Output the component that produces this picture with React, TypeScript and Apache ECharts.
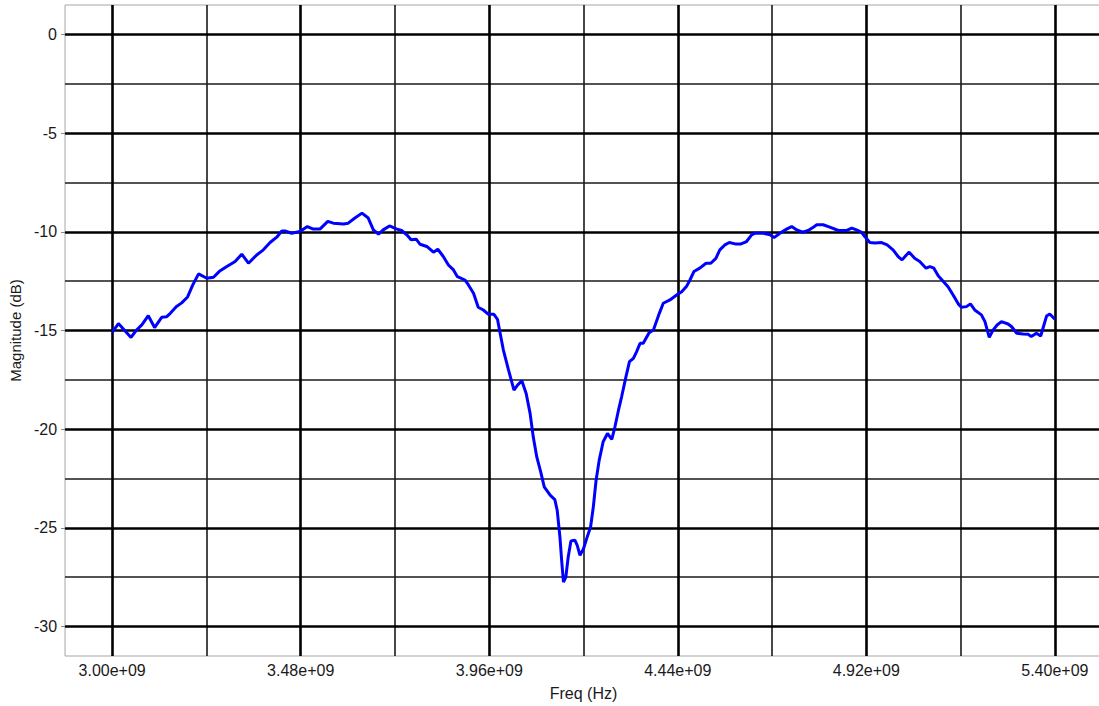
import React, { useEffect, useRef } from "react";
import * as echarts from "echarts";

// Measured frequency response: frequency (GHz) and magnitude (dB)
const freqGHz: number[] = [
  3.000, 3.016, 3.048, 3.061, 3.076, 3.092, 3.108, 3.126, 3.139, 3.148,
  3.163, 3.177, 3.192, 3.205, 3.220, 3.241, 3.258, 3.273, 3.292, 3.313,
  3.330, 3.347, 3.368, 3.385, 3.402, 3.419, 3.432, 3.440, 3.457, 3.478,
  3.497, 3.512, 3.529, 3.549, 3.563, 3.589, 3.601, 3.618, 3.636, 3.652,
  3.665, 3.678, 3.690, 3.706, 3.725, 3.737, 3.750, 3.761, 3.774, 3.784,
  3.801, 3.818, 3.829, 3.843, 3.856, 3.869, 3.879, 3.898, 3.907, 3.920,
  3.932, 3.945, 3.958, 3.972, 3.981, 3.987, 3.996, 4.009, 4.023, 4.032,
  4.043, 4.054, 4.064, 4.072, 4.081, 4.091, 4.100, 4.115, 4.127, 4.133,
  4.140, 4.145, 4.149, 4.155, 4.161, 4.168, 4.178, 4.184, 4.191, 4.200,
  4.208, 4.218, 4.225, 4.232, 4.240, 4.250, 4.261, 4.272, 4.280, 4.289,
  4.297, 4.308, 4.317, 4.327, 4.335, 4.344, 4.352, 4.367, 4.378, 4.393,
  4.403, 4.420, 4.437, 4.450, 4.463, 4.471, 4.481, 4.496, 4.512, 4.524,
  4.537, 4.547, 4.560, 4.571, 4.586, 4.601, 4.615, 4.628, 4.637, 4.658,
  4.675, 4.685, 4.700, 4.717, 4.730, 4.743, 4.758, 4.772, 4.785, 4.794,
  4.810, 4.827, 4.849, 4.870, 4.883, 4.895, 4.908, 4.916, 4.929, 4.942,
  4.959, 4.973, 4.988, 5.001, 5.011, 5.022, 5.029, 5.043, 5.056, 5.072,
  5.082, 5.092, 5.103, 5.116, 5.128, 5.141, 5.154, 5.162, 5.175, 5.185,
  5.196, 5.213, 5.222, 5.233, 5.243, 5.253, 5.264, 5.281, 5.290, 5.303,
  5.319, 5.332, 5.340, 5.353, 5.364, 5.379, 5.387, 5.400,
];

const magnitudeDb: number[] = [
  -15.10, -14.65, -15.35, -15.00, -14.70, -14.25, -14.85, -14.33, -14.30, -14.13,
  -13.80, -13.60, -13.30, -12.70, -12.13, -12.35, -12.30, -12.00, -11.76, -11.50,
  -11.13, -11.59, -11.17, -10.91, -10.54, -10.27, -9.95, -9.95, -10.07, -9.98,
  -9.73, -9.86, -9.86, -9.47, -9.56, -9.60, -9.56, -9.30, -9.05, -9.30,
  -9.90, -10.12, -9.90, -9.70, -9.86, -9.93, -10.15, -10.40, -10.37, -10.63,
  -10.74, -11.03, -10.88, -11.25, -11.68, -11.93, -12.27, -12.44, -12.69, -13.11,
  -13.82, -13.96, -14.18, -14.18, -14.43, -15.06, -15.99, -17.00, -18.02, -17.77,
  -17.55, -18.19, -19.20, -20.39, -21.41, -22.17, -22.93, -23.35, -23.57, -24.11,
  -25.47, -26.82, -27.75, -27.50, -26.48, -25.67, -25.63, -25.89, -26.40, -26.06,
  -25.55, -24.96, -23.94, -22.59, -21.57, -20.64, -20.22, -20.52, -19.88, -19.04,
  -18.36, -17.35, -16.58, -16.41, -16.08, -15.65, -15.65, -15.11, -14.97, -14.13,
  -13.62, -13.45, -13.20, -13.03, -12.74, -12.44, -12.01, -11.84, -11.59, -11.59,
  -11.34, -10.91, -10.66, -10.54, -10.61, -10.61, -10.49, -10.15, -10.07, -10.07,
  -10.15, -10.29, -10.07, -9.86, -9.73, -9.90, -10.02, -9.93, -9.76, -9.64,
  -9.64, -9.76, -9.93, -9.93, -9.81, -9.90, -10.02, -10.24, -10.54, -10.57,
  -10.54, -10.66, -10.91, -11.25, -11.42, -11.17, -11.03, -11.34, -11.50, -11.84,
  -11.76, -11.84, -12.23, -12.52, -12.78, -13.20, -13.65, -13.82, -13.79, -13.65,
  -13.96, -14.21, -14.55, -15.35, -14.97, -14.72, -14.55, -14.67, -14.81, -15.14,
  -15.18, -15.19, -15.31, -15.14, -15.28, -14.26, -14.16, -14.43,
];

// Axis ranges and grid positions
const xRange: [number, number] = [2880000000, 5520000000];
const yRange: [number, number] = [-31.5, 1.5];
const xMajorTicks: number[] = [3000000000, 3480000000, 3960000000, 4440000000, 4920000000, 5400000000];
const xMinorTicks: number[] = [3240000000, 3720000000, 4200000000, 4680000000, 5160000000];
const yMajorTicks: number[] = [0, -5, -10, -15, -20, -25, -30];
const yMinorTicks: number[] = [-2.5, -7.5, -12.5, -17.5, -22.5, -27.5];

const FONT = "'Liberation Sans', Arial, Helvetica, sans-serif";
const TEXT = "#1a1a1a";

export default function App() {
  const ref = useRef<HTMLDivElement>(null);

  useEffect(() => {
    document.body.style.margin = "0";
    if (!ref.current) return;
    const chart = echarts.init(ref.current, undefined, { renderer: "svg" });

    const major = { color: "#000", width: 2.6, type: "solid" as const };
    const minor = { color: "#1a1a1a", width: 1.6, type: "solid" as const };

    const gridLines = [
      ...xMinorTicks.map((v) => ({ xAxis: v, lineStyle: minor })),
      ...yMinorTicks.map((v) => ({ yAxis: v, lineStyle: minor })),
      ...xMajorTicks.map((v) => ({ xAxis: v, lineStyle: major })),
      ...yMajorTicks.map((v) => ({ yAxis: v, lineStyle: major })),
    ];

    const curve = freqGHz.map((f, i) => [Math.round(f * 1e9), magnitudeDb[i]]);

    chart.setOption({
      animation: false,
      backgroundColor: "#fff",
      grid: {
        left: 65,
        top: 5,
        width: 1037,
        height: 651,
        show: true,
        borderColor: "#a6a6a6",
        borderWidth: 1,
        backgroundColor: "transparent",
      },
      xAxis: {
        type: "value",
        min: xRange[0],
        max: xRange[1],
        name: "Freq (Hz)",
        nameLocation: "middle",
        nameGap: 29,
        nameTextStyle: { fontFamily: FONT, fontSize: 16, color: TEXT },
        splitLine: { show: false },
        axisLine: { show: false },
        axisTick: {
          show: true,
          customValues: xMajorTicks,
          length: 4,
          lineStyle: { color: "#888", width: 1 },
        },
        axisLabel: {
          customValues: xMajorTicks,
          margin: 6,
          fontFamily: FONT,
          fontSize: 16,
          color: TEXT,
          formatter: (v: number) => (v / 1e9).toFixed(2) + "e+09",
        },
      },
      yAxis: {
        type: "value",
        min: yRange[0],
        max: yRange[1],
        name: "Magnitude (dB)",
        nameLocation: "middle",
        nameGap: 41,
        nameTextStyle: { fontFamily: FONT, fontSize: 15, color: TEXT },
        splitLine: { show: false },
        axisLine: { show: false },
        axisTick: {
          show: true,
          customValues: yMajorTicks,
          length: 4,
          lineStyle: { color: "#888", width: 1 },
        },
        axisLabel: {
          customValues: yMajorTicks,
          margin: 8,
          fontFamily: FONT,
          fontSize: 16,
          color: TEXT,
        },
      },
      series: [
        {
          name: "grid",
          type: "line",
          data: [],
          z: 1,
          silent: true,
          markLine: {
            silent: true,
            symbol: ["none", "none"],
            label: { show: false },
            emphasis: { disabled: true },
            data: gridLines,
          },
        },
        {
          name: "magnitude",
          type: "line",
          data: curve,
          z: 5,
          showSymbol: false,
          smooth: false,
          lineStyle: { color: "#0000ff", width: 3 },
        },
      ],
    });

    return () => chart.dispose();
  }, []);

  // The plot runs slightly past the right edge of the visible area
  return (
    <div style={{ width: 1099, height: 706, overflow: "hidden" }}>
      <div ref={ref} style={{ width: 1110, height: 706 }} />
    </div>
  );
}
